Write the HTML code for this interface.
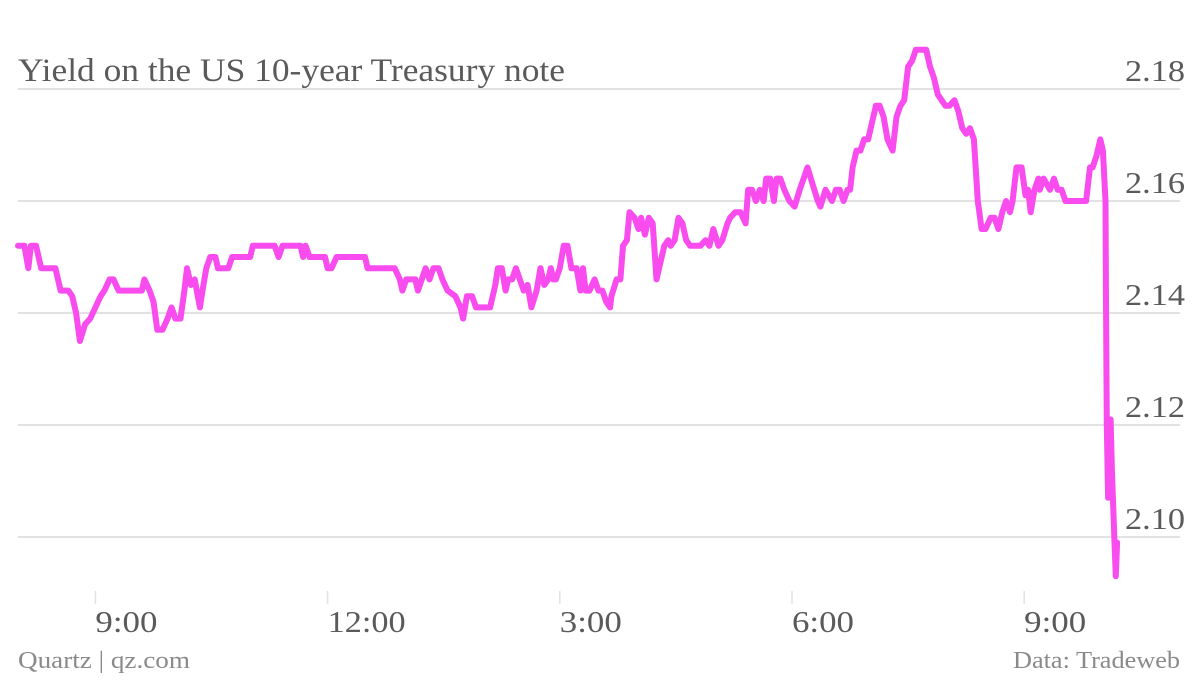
<!DOCTYPE html>
<html><head><meta charset="utf-8"><style>
body{margin:0;background:#fff}
svg text{font-family:"Liberation Serif","DejaVu Serif",serif}
</style></head><body>
<svg id="chart" width="1200" height="676" viewBox="0 0 1200 676" xmlns="http://www.w3.org/2000/svg">
<text x="18" y="81" font-size="33" fill="#5a5a5a" textLength="547" lengthAdjust="spacingAndGlyphs">Yield on the US 10-year Treasury note</text>
<g id="grid"></g>
<g id="yaxis"></g>
<g id="xaxis"></g>
<path id="line" fill="none" stroke="#f84cee" stroke-width="6" stroke-linejoin="round" stroke-linecap="round"/>
<text x="18" y="668" font-size="24" fill="#8a8a8a" textLength="172" lengthAdjust="spacingAndGlyphs">Quartz | qz.com</text>
<text x="1013" y="668" font-size="24" fill="#8a8a8a" textLength="167" lengthAdjust="spacingAndGlyphs">Data: Tradeweb</text>
</svg>
<script>
// minutes since 8:00 AM
const minutes=[0,5,8,10,14,16,18,29,33,39,42,45,48,52,56,60,64,67,71,74,78,96,98,102,105,108,112,116,119,122,126,129,131,134,137,141,143,146,149,153,155,163,166,180,182,199,202,205,219,221,223,226,238,240,243,247,269,271,292,296,298,301,308,310,313,316,319,322,326,329,333,339,343,345,348,352,355,366,370,372,375,378,380,383,386,389,392,395,398,402,405,408,411,413,415,417,420,423,426,429,433,436,438,440,443,447,450,453,456,459,460,464,467,469,472,474,478,481,483,486,489,492,495,498,501,504,506,509,512,515,518,521,529,533,536,539,543,546,550,552,556,560,564,566,569,572,575,578,580,583,586,588,591,594,598,602,606,609,612,616,620,622,626,631,634,637,640,643,645,647,650,653,656,659,662,665,668,671,674,678,681,684,687,690,693,696,699,704,707,710,713,716,719,722,726,729,732,735,738,741,744,747,750,754,757,760,763,766,769,771,774,778,781,783,785,788,791,792,795,800,803,806,809,812,816,823,828,831,833,836,839,841,843,843.4,844,845,847,848,850,851,852];
const yields=[2.152,2.152,2.148,2.152,2.152,2.150,2.148,2.148,2.144,2.144,2.143,2.140,2.135,2.138,2.139,2.141,2.143,2.144,2.146,2.146,2.144,2.144,2.146,2.144,2.142,2.137,2.137,2.139,2.141,2.139,2.139,2.144,2.148,2.145,2.146,2.141,2.144,2.148,2.150,2.150,2.148,2.148,2.150,2.150,2.152,2.152,2.150,2.152,2.152,2.150,2.152,2.150,2.150,2.148,2.148,2.150,2.150,2.148,2.148,2.146,2.144,2.146,2.146,2.144,2.146,2.148,2.146,2.148,2.148,2.146,2.144,2.143,2.141,2.139,2.143,2.143,2.141,2.141,2.145,2.148,2.148,2.144,2.146,2.146,2.148,2.146,2.144,2.145,2.141,2.144,2.148,2.145,2.146,2.148,2.146,2.146,2.148,2.152,2.152,2.148,2.148,2.144,2.148,2.144,2.144,2.146,2.144,2.144,2.142,2.141,2.143,2.146,2.146,2.152,2.153,2.158,2.157,2.155,2.157,2.154,2.157,2.156,2.146,2.149,2.152,2.153,2.152,2.153,2.157,2.156,2.153,2.152,2.152,2.153,2.152,2.155,2.152,2.153,2.156,2.157,2.158,2.158,2.156,2.162,2.162,2.160,2.162,2.160,2.164,2.164,2.160,2.164,2.164,2.162,2.160,2.159,2.162,2.164,2.166,2.163,2.160,2.159,2.162,2.160,2.162,2.162,2.160,2.162,2.162,2.166,2.169,2.169,2.171,2.171,2.174,2.177,2.177,2.175,2.171,2.169,2.175,2.177,2.178,2.184,2.185,2.187,2.187,2.187,2.184,2.182,2.179,2.178,2.177,2.177,2.178,2.176,2.173,2.172,2.173,2.171,2.160,2.155,2.155,2.157,2.157,2.155,2.158,2.160,2.158,2.160,2.166,2.166,2.161,2.162,2.158,2.162,2.164,2.162,2.164,2.162,2.164,2.162,2.162,2.160,2.160,2.160,2.160,2.166,2.166,2.168,2.171,2.169,2.160,2.142,2.120,2.107,2.121,2.112,2.099,2.093,2.099];
const yTicks=[2.10,2.12,2.14,2.16,2.18];
const xTickMinutes=[60,240,420,600,780];
const xTickLabels=["9:00","12:00","3:00","6:00","9:00"];

const NS="http://www.w3.org/2000/svg";
function xs(m){return 18+m*77.4/60;}
function ys(v){return 89+(2.18-v)*5600;}
function mk(tag,attrs,parent){const e=document.createElementNS(NS,tag);for(const k in attrs)e.setAttribute(k,attrs[k]);parent.appendChild(e);return e;}
const grid=document.getElementById('grid'),yaxis=document.getElementById('yaxis'),xaxis=document.getElementById('xaxis');
yTicks.forEach(v=>{
  const l=mk('line',{x1:18,x2:1180,y1:ys(v),y2:ys(v),stroke:'#e2e2e2','stroke-width':2},grid);
  
  
  const t=mk('text',{x:1125,y:ys(v)-8,'font-size':31,fill:'#5a5a5a',textLength:60,lengthAdjust:'spacingAndGlyphs'},yaxis);
  t.textContent=v.toFixed(2);
  
  
});
xTickMinutes.forEach((m,i)=>{
  const x=xs(m);
  const l=mk('line',{x1:x,x2:x,y1:591,y2:604,stroke:'#e2e2e2','stroke-width':1.5},xaxis);
  
  
  const w=xTickLabels[i].length===5?78:62;
  const t=mk('text',{x:x,y:632,'font-size':31,fill:'#5a5a5a',textLength:w,lengthAdjust:'spacingAndGlyphs'},xaxis);
  t.textContent=xTickLabels[i];
  
  
});
document.getElementById('line').setAttribute('d',minutes.map((m,i)=>(i?'L':'M')+xs(m).toFixed(1)+','+ys(yields[i]).toFixed(1)).join(''));
</script>
</body></html>
